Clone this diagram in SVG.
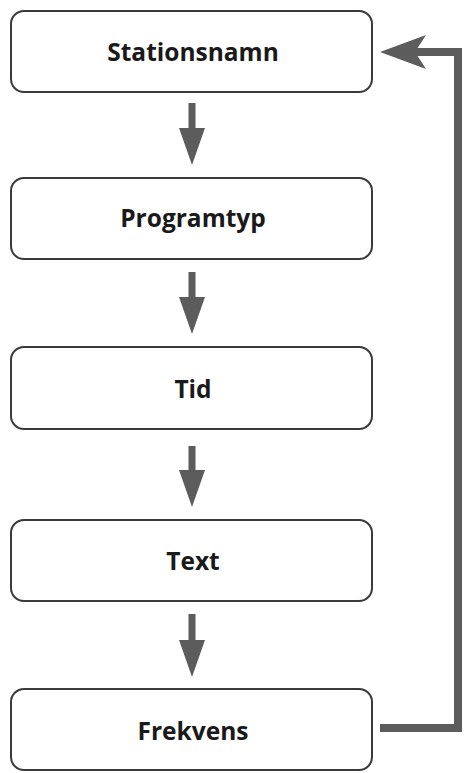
<svg xmlns="http://www.w3.org/2000/svg" width="468" height="773" viewBox="0 0 468 773">
<style>
.box{fill:#fff;stroke:#3a3a3a;stroke-width:2}
.lbl{font-family:"Open Sans","Liberation Sans",sans-serif;font-weight:bold;font-size:24.5px;fill:#1a1a1a;text-anchor:middle}
.arr{fill:#5c5c5c}
.line{fill:none;stroke:#5c5c5c;stroke-width:8}
</style>
<rect width="468" height="773" fill="#fff"/>
<g id="n1"><rect class="box" x="11" y="11" width="361" height="81" rx="13"/><text class="lbl" x="193" y="61">Stationsnamn</text></g>
<g id="n2"><rect class="box" x="11" y="178" width="361" height="81" rx="13"/><text class="lbl" x="193" y="227">Programtyp</text></g>
<g id="n3"><rect class="box" x="11" y="347" width="361" height="82" rx="13"/><text class="lbl" x="193" y="398">Tid</text></g>
<g id="n4"><rect class="box" x="11" y="520" width="361" height="81" rx="13"/><text class="lbl" x="193" y="570">Text</text></g>
<g id="n5"><rect class="box" x="11" y="689" width="361" height="81" rx="13"/><text class="lbl" x="193" y="740">Frekvens</text></g>
<g id="connectors">
<path class="arr" d="M188.5 103H195.5V128H205L192 165L179 128H188.5Z"/>
<path class="arr" d="M188.5 272H195.5V297H205L192 334L179 297H188.5Z"/>
<path class="arr" d="M188.5 446H195.5V470H205L192 507L179 470H188.5Z"/>
<path class="arr" d="M188.5 614H195.5V640H205L192 677L179 640H188.5Z"/>
<path class="line" d="M380 728H458V52H412"/>
<path class="arr" d="M380 52L426 35L415 52L426 69Z"/>
</g>
</svg>
